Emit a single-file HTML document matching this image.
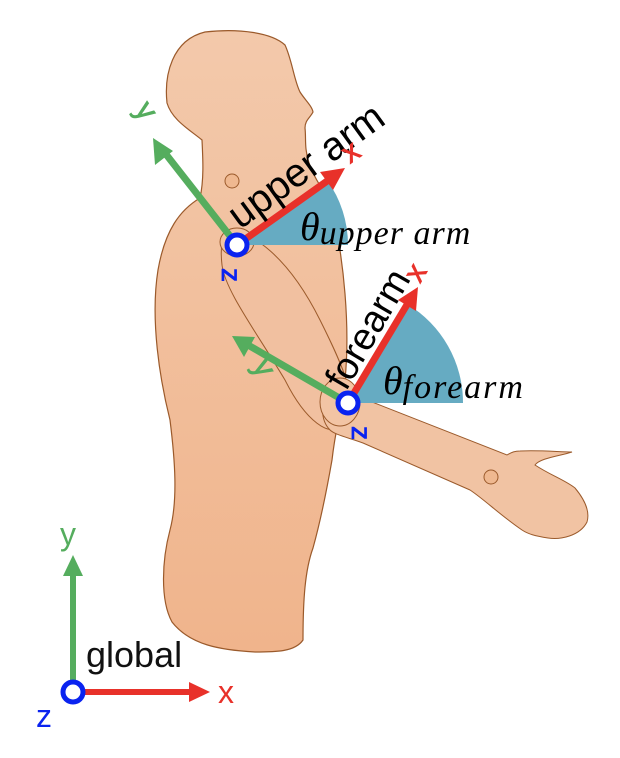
<!DOCTYPE html>
<html><head><meta charset="utf-8"><style>
html,body{margin:0;padding:0;background:#fff;}
svg{display:block;}
</style></head><body>
<svg width="620" height="758" viewBox="0 0 620 758" xmlns="http://www.w3.org/2000/svg" font-family="Liberation Sans, sans-serif">
<defs>
<linearGradient id="sk" x1="0" y1="0" x2="0" y2="1">
<stop offset="0" stop-color="#f3c9ab"/><stop offset="1" stop-color="#f0b48c"/>
</linearGradient>
</defs>
<path d="M205,32 C240,28 272,33 285,45 C292,60 294,80 300,92 C305,100 312,106 313,112 C310,118 305,120 305,128 C307,145 300,160 330,200 C345,260 350,330 345,380 C340,420 336,425 332,460 C325,500 318,530 313,548 C305,570 303,600 303,640 C295,652 275,652 255,652 C220,650 190,645 172,622 C160,600 162,560 170,530 C178,500 175,460 170,420 C160,380 150,320 158,270 C165,230 180,210 200,198 C204,180 203,160 202,140 C190,130 172,120 167,103 C164,75 172,40 205,32 Z" fill="url(#sk)" stroke="#9b5a2b" stroke-width="1.2"/>
<path d="M225,235 C250,225 290,260 320,320 C345,370 360,405 345,425 C330,440 305,420 285,380 C255,330 225,290 222,265 C220,248 222,240 225,235 Z" fill="#f1c0a0" stroke="#9b5a2b" stroke-width="1"/>
<path d="M330,385 C345,390 360,395 367,400 L507,455 C512,452 515,451 520,451 C540,450 560,452 572,452 C560,456 540,458 535,465 C550,475 565,480 575,488 C585,500 590,512 587,522 C580,536 560,540 548,538 C535,536 528,534 522,530 C500,515 485,500 470,490 L363,443 C350,438 335,435 330,430 C320,420 320,400 330,385 Z" fill="#f1c3a3" stroke="#9b5a2b" stroke-width="1"/>
<ellipse cx="340" cy="402" rx="20" ry="24" fill="#f2c4a4" stroke="#9b5a2b" stroke-width="1"/>
<circle cx="232" cy="181" r="7" fill="#efb890" stroke="#9b5a2b" stroke-width="1"/>
<circle cx="491" cy="477" r="7" fill="#efb890" stroke="#9b5a2b" stroke-width="1"/>
<ellipse cx="237" cy="242" rx="17" ry="14" fill="#f2c4a4" stroke="#9b5a2b" stroke-width="1"/>
<path d="M237,245 L348,245 A111,111 0 0 0 327,180 Z" fill="#66abc2"/>
<path d="M348,403 L463,403 A115,115 0 0 0 407,304 Z" fill="#66abc2"/>
<line x1="237" y1="245" x2="330" y2="179" stroke="#e8312a" stroke-width="7"/>
<polygon points="345,168 320,172 333,190" fill="#e8312a"/>
<line x1="237" y1="245" x2="165" y2="153" stroke="#55ad5e" stroke-width="7"/>
<polygon points="153,138 155,165 173,151" fill="#55ad5e"/>
<line x1="348" y1="403" x2="408" y2="303" stroke="#e8312a" stroke-width="7"/>
<polygon points="418,287 398,300 416,311" fill="#e8312a"/>
<line x1="348" y1="403" x2="248" y2="345" stroke="#55ad5e" stroke-width="7"/>
<polygon points="232,336 244,357 255,337" fill="#55ad5e"/>
<circle cx="237" cy="245" r="10" fill="#fff" stroke="#0a23f0" stroke-width="5"/>
<circle cx="348" cy="403" r="10" fill="#fff" stroke="#0a23f0" stroke-width="5"/>
<text x="0" y="0" font-size="40" fill="#000" transform="translate(240,230) rotate(-36)">upper arm</text>
<text x="0" y="0" font-size="38" fill="#000" transform="translate(346,392) rotate(-60)">forearm</text>
<text x="0" y="0" font-size="30" fill="#e8312a" stroke="#e8312a" stroke-width="0.8" transform="translate(350,164) rotate(-35)">x</text>
<text x="0" y="0" font-size="30" fill="#e8312a" stroke="#e8312a" stroke-width="0.8" transform="translate(420,284) rotate(-60)">x</text>
<text x="0" y="0" font-size="30" fill="#55ad5e" stroke="#55ad5e" stroke-width="0.8" transform="translate(134,110) rotate(55)">y</text>
<text x="0" y="0" font-size="30" fill="#55ad5e" stroke="#55ad5e" stroke-width="0.8" transform="translate(252,366) rotate(60)">y</text>
<text x="0" y="0" font-size="28" fill="#0a23f0" stroke="#0a23f0" stroke-width="0.8" transform="translate(222,268) rotate(90)">z</text>
<text x="0" y="0" font-size="28" fill="#0a23f0" stroke="#0a23f0" stroke-width="0.8" transform="translate(352,426) rotate(90)">z</text>
<text x="300" y="240" font-family="Liberation Serif, serif" font-style="italic" font-size="40" fill="#000">θ<tspan font-size="34" dy="4" letter-spacing="1">upper arm</tspan></text>
<text x="383" y="394" font-family="Liberation Serif, serif" font-style="italic" font-size="40" fill="#000">θ<tspan font-size="34" dy="4" letter-spacing="2">forearm</tspan></text>
<line x1="73" y1="692" x2="73" y2="572" stroke="#55ad5e" stroke-width="6"/>
<polygon points="73,555 63,576 83,576" fill="#55ad5e"/>
<line x1="73" y1="692" x2="192" y2="692" stroke="#e8312a" stroke-width="6"/>
<polygon points="210,692 189,682 189,702" fill="#e8312a"/>
<circle cx="73" cy="692" r="10" fill="#fff" stroke="#0a23f0" stroke-width="5"/>
<text x="86" y="667" font-size="36" fill="#111">global</text>
<text x="218" y="703" font-size="32" fill="#e8312a">x</text>
<text x="60" y="545" font-size="32" fill="#55ad5e">y</text>
<text x="36" y="727" font-size="32" fill="#0a23f0">z</text>
</svg>
</body></html>
